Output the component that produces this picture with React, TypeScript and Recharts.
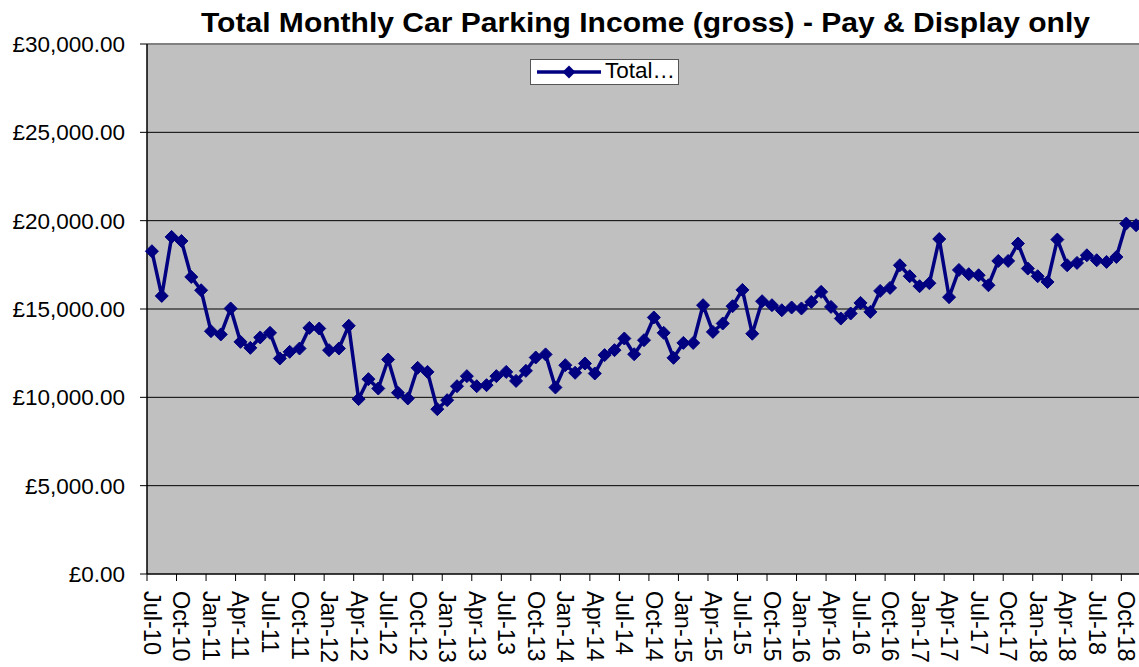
import React from "react";
import {
  CartesianGrid,
  Legend,
  Line,
  LineChart,
  ReferenceLine,
  XAxis,
  YAxis,
} from "recharts";

// monthly gross income, Jul-10 .. Nov-18
const income = [
  18270, 15740, 19080, 18850, 16815, 16060, 13745, 13560, 15030, 13140, 12800, 13390,
  13650, 12200, 12575, 12765, 13930, 13895, 12670, 12765, 14050, 9900, 11030, 10500,
  12140, 10260, 9935, 11670, 11440, 9330, 9840, 10630, 11200, 10630, 10690, 11200,
  11440, 10930, 11500, 12255, 12430, 10560, 11820, 11390, 11915, 11350, 12390, 12670,
  13330, 12440, 13235, 14520, 13650, 12235, 13080, 13080, 15215, 13705, 14180, 15160,
  16080, 13600, 15440, 15215, 14930, 15085, 15030, 15400, 15970, 15120, 14460, 14745,
  15345, 14835, 16025, 16195, 17475, 16855, 16290, 16460, 18960, 15670, 17210, 16970,
  16910, 16345, 17720, 17720, 18705, 17290, 16855, 16530, 18930, 17475, 17610, 18040,
  17760, 17665, 17945, 19835, 19740,
];

const monthNames = ["Jan", "Feb", "Mar", "Apr", "May", "Jun", "Jul", "Aug", "Sep", "Oct", "Nov", "Dec"];
const firstYear = 10;
const firstMonth = 6; // Jul
const months = income.map((_, i) => {
  const m = firstMonth + i;
  return `${monthNames[m % 12]}-${firstYear + Math.floor(m / 12)}`;
});

const yTicks = [0, 5000, 10000, 15000, 20000, 25000, 30000];
const xTicks = months.map((_, i) => i).filter((i) => i % 3 === 0);

const data = income.map((v, i) => ({ pos: i + 0.5, month: months[i], income: v }));

const NAVY = "#000080";
const FONT = "'Liberation Sans', Arial, Helvetica, sans-serif";

const CHART_W = 1141;
const PLOT_LEFT = 147;
const HALF_BAND = (CHART_W - PLOT_LEFT) / months.length / 2;

const Diamond = (props: any) => {
  const { cx, cy } = props;
  if (cx == null || cy == null) return null;
  const r = 6.5;
  return (
    <polygon
      points={`${cx},${cy - r} ${cx + r},${cy} ${cx},${cy + r} ${cx - r},${cy}`}
      fill={NAVY}
      stroke={NAVY}
    />
  );
};

const MonthTick = (props: any) => {
  const { x, y, payload } = props;
  const label = months[payload.value];
  return (
    <g>
      <line x1={x} y1={y - 17} x2={x} y2={y - 10} stroke="#000" />
      {label && (
        <text
          transform={`translate(${x + HALF_BAND},${y}) rotate(90)`}
          fontSize={23.5}
          fontFamily={FONT}
          fill="#000"
          textAnchor="start"
          dominantBaseline="central"
        >
          {label}
        </text>
      )}
    </g>
  );
};

const poundFormat = (v: number) =>
  "£" + v.toLocaleString("en-GB", { minimumFractionDigits: 2, maximumFractionDigits: 2 });

const LegendBox = () => (
  <div
    style={{
      width: 149,
      height: 26,
      boxSizing: "border-box",
      border: "1px solid #555",
      background: "#fff",
      position: "relative",
      fontFamily: FONT,
      fontSize: 22.5,
    }}
  >
    <svg width={66} height={24} style={{ position: "absolute", left: 6, top: 0 }}>
      <line x1={0} y1={12} x2={64} y2={12} stroke={NAVY} strokeWidth={3.5} />
      <polygon points="32,5.5 38.5,12 32,18.5 25.5,12" fill={NAVY} />
    </svg>
    <span style={{ position: "absolute", left: 74, top: -2, whiteSpace: "nowrap", lineHeight: "26px" }}>
      Total…
    </span>
  </div>
);

export default function App() {
  return (
    <div
      style={{
        position: "absolute",
        left: 0,
        top: 0,
        width: 1139,
        height: 667,
        overflow: "hidden",
        background: "#fff",
      }}
    >
      <svg width={1139} height={44} style={{ position: "absolute", left: 0, top: 0 }}>
        <text
          x={201}
          y={32}
          fontFamily={FONT}
          fontWeight="bold"
          fontSize={27.5}
          textLength={889}
          lengthAdjust="spacingAndGlyphs"
          fill="#000"
        >
          Total Monthly Car Parking Income (gross) - Pay &amp; Display only
        </text>
      </svg>
      <div style={{ position: "absolute", left: 0, top: 0 }}>
        <LineChart
          width={CHART_W}
          height={667}
          data={data}
          margin={{ top: 44, right: 0, bottom: 0, left: 0 }}
        >
          <CartesianGrid vertical={false} stroke="#000" fill="#C0C0C0" />
          <XAxis
            type="number"
            dataKey="pos"
            domain={[0, months.length]}
            ticks={xTicks}
            interval={0}
            height={93}
            tickSize={7}
            tickMargin={10}
            tickLine={false}
            axisLine={{ stroke: "#000" }}
            tick={<MonthTick />}
          />
          <YAxis
            domain={[0, 30000]}
            ticks={yTicks}
            width={PLOT_LEFT}
            tickSize={7}
            tickMargin={15}
            axisLine={{ stroke: "#000", strokeWidth: 1.5 }}
            tickLine={{ stroke: "#000" }}
            tick={{ fontSize: 22.5, fill: "#000", fontFamily: FONT }}
            tickFormatter={poundFormat}
          />
          <ReferenceLine y={30000} stroke="#808080" strokeWidth={2} />
          <Legend
            layout="vertical"
            align="center"
            verticalAlign="middle"
            wrapperStyle={{ left: 530, top: 59, width: 149, height: 26 }}
            content={<LegendBox />}
          />
          <Line
            type="linear"
            dataKey="income"
            name="Total"
            stroke={NAVY}
            strokeWidth={3.5}
            dot={<Diamond />}
            activeDot={false}
            isAnimationActive={false}
          />
        </LineChart>
      </div>
    </div>
  );
}
